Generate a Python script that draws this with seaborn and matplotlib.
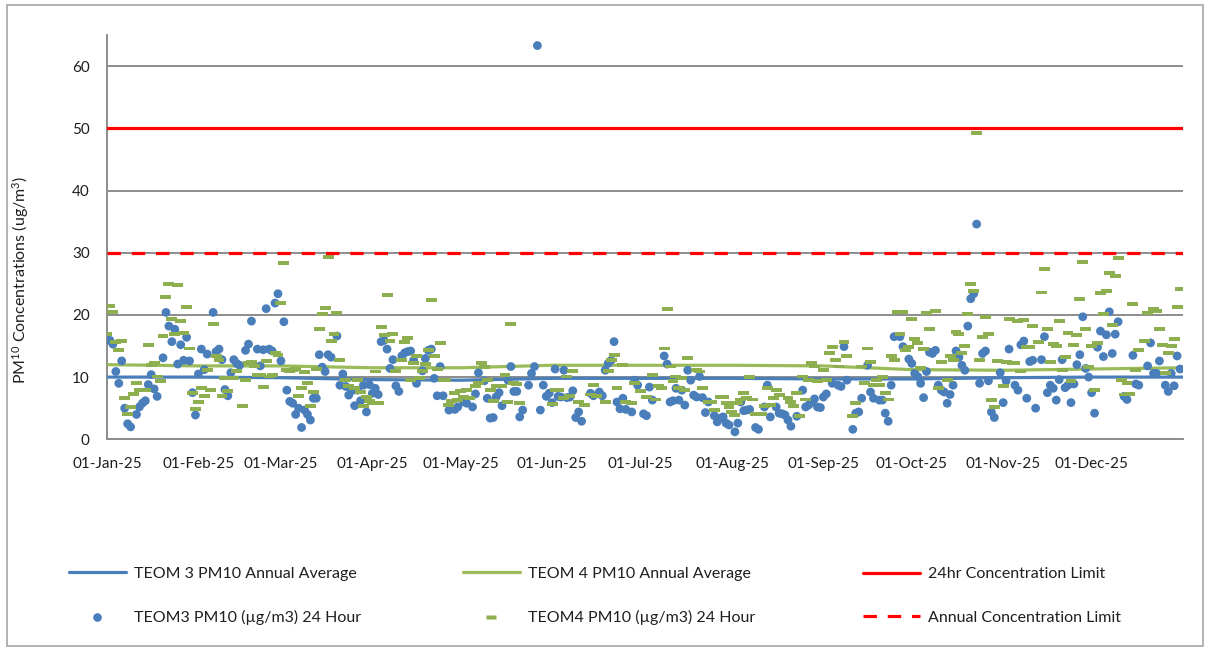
import numpy as np
import pandas as pd
import matplotlib
matplotlib.use("Agg")
import matplotlib.pyplot as plt
from matplotlib.lines import Line2D
from matplotlib.patches import Rectangle
from matplotlib.markers import MarkerStyle
import seaborn as sns

# ---------------------------------------------------------------------------
# Daily PM10 readings, 2025 (day of year offset from 01-Jan, value in ug/m3)
# ---------------------------------------------------------------------------
teom3_days = [
    0, 1, 2, 3, 4, 5, 6, 7, 8, 10, 11, 12, 13, 14, 15, 16, 17, 19, 20, 21,
    22, 23, 24, 25, 26, 27, 28, 29, 30, 31, 32, 33, 34, 36, 37, 38, 39, 40, 41, 42,
    43, 44, 45, 47, 48, 49, 51, 52, 53, 54, 55, 56, 57, 58, 59, 60, 61, 62, 63, 64,
    65, 66, 67, 68, 69, 70, 71, 72, 73, 74, 75, 76, 78, 79, 80, 81, 82, 83, 84, 85,
    86, 87, 88, 89, 90, 91, 92, 93, 94, 95, 96, 97, 98, 99, 100, 101, 102, 103, 104, 105,
    107, 108, 109, 110, 111, 112, 113, 114, 116, 118, 119, 121, 122, 124, 125, 126, 128, 129, 130, 131,
    132, 133, 134, 136, 137, 138, 139, 140, 141, 143, 144, 145, 146, 147, 148, 149, 150, 151, 152, 153,
    154, 155, 156, 157, 158, 159, 160, 161, 164, 165, 167, 168, 169, 170, 171, 172, 173, 174, 175, 176,
    178, 179, 180, 182, 183, 184, 185, 189, 190, 191, 192, 193, 194, 195, 196, 197, 198, 199, 200, 201,
    202, 203, 204, 206, 207, 208, 209, 210, 211, 213, 214, 215, 216, 217, 218, 220, 221, 223, 224, 225,
    227, 228, 229, 230, 231, 232, 234, 236, 237, 238, 239, 240, 241, 242, 243, 244, 246, 248, 249, 250,
    251, 253, 254, 255, 256, 258, 259, 260, 262, 263, 264, 265, 266, 267, 269, 270, 272, 273, 274, 275,
    276, 277, 278, 279, 280, 281, 282, 283, 284, 285, 286, 287, 288, 289, 290, 291, 292, 293, 294, 295,
    296, 297, 298, 299, 300, 301, 303, 304, 305, 306, 308, 309, 310, 311, 312, 313, 314, 315, 317, 318,
    319, 320, 321, 322, 323, 324, 325, 326, 327, 328, 329, 330, 331, 332, 333, 334, 335, 336, 337, 338,
    339, 340, 341, 342, 343, 345, 346, 348, 349, 350, 353, 354, 355, 356, 357, 359, 360, 361, 362, 363,
    364,
]
teom3_pm10 = [
    16.0, 15.9, 15.3, 10.9, 9.0, 12.6, 5.0, 2.5, 2.0, 4.0, 5.2, 5.8, 6.2, 8.8, 10.4, 8.1, 6.9, 13.1, 20.4, 18.2,
    15.7, 17.7, 12.1, 15.2, 12.7, 16.4, 12.6, 7.5, 3.9, 10.5, 14.5, 11.2, 13.7, 20.4, 14.1, 14.5, 12.8, 8.0, 7.0, 10.7,
    12.8, 12.2, 11.9, 14.3, 15.3, 19.0, 14.5, 11.8, 14.4, 21.0, 14.5, 14.2, 21.9, 23.4, 12.6, 18.9, 7.9, 6.1, 5.8, 4.0,
    5.0, 1.9, 4.7, 4.0, 3.1, 6.6, 6.6, 13.6, 11.6, 10.9, 13.6, 13.2, 16.6, 8.7, 10.5, 8.5, 7.1, 7.8, 5.4, 7.9,
    6.2, 8.7, 4.4, 8.8, 7.4, 8.2, 7.2, 15.7, 15.9, 14.5, 11.4, 12.8, 8.6, 7.7, 13.4, 13.9, 14.1, 14.2, 12.7, 9.0,
    11.0, 13.0, 14.3, 14.5, 9.8, 7.0, 11.7, 7.0, 4.7, 4.8, 5.2, 6.0, 5.8, 5.2, 7.3, 10.7, 9.4, 6.6, 3.4, 3.5,
    6.8, 7.5, 5.4, 9.5, 11.7, 7.7, 7.7, 3.6, 4.7, 8.7, 10.6, 11.7, 63.3, 4.7, 8.7, 6.9, 7.4, 5.9, 11.3, 6.9,
    6.8, 11.1, 6.7, 6.8, 7.8, 3.5, 4.4, 2.9, 7.4, 7.0, 7.6, 7.0, 11.1, 12.2, 12.7, 15.7, 6.0, 4.9, 6.6, 4.8,
    4.4, 9.5, 8.7, 4.1, 3.8, 8.4, 6.3, 13.4, 12.1, 6.0, 6.2, 8.2, 6.3, 7.9, 5.5, 11.1, 9.5, 7.1, 6.8, 10.1,
    6.7, 4.3, 6.0, 3.8, 2.8, 3.4, 3.6, 2.6, 2.3, 1.2, 2.6, 6.0, 4.6, 4.7, 4.8, 1.9, 1.6, 5.2, 8.7, 3.6,
    5.2, 4.2, 4.1, 3.9, 3.1, 2.1, 3.7, 7.9, 5.2, 5.5, 6.0, 6.5, 5.2, 5.1, 6.8, 7.3, 9.0, 8.7, 8.5, 14.9,
    9.5, 1.6, 4.2, 4.4, 6.6, 11.9, 7.6, 6.6, 6.3, 6.3, 4.2, 2.9, 8.7, 16.5, 16.5, 14.9, 12.9, 12.2, 10.6, 10.1,
    9.0, 6.7, 10.9, 14.0, 13.8, 14.3, 8.7, 7.9, 7.6, 5.8, 7.2, 8.7, 14.2, 13.2, 11.9, 11.1, 18.2, 22.6, 23.4, 34.6,
    9.0, 13.8, 14.2, 9.4, 4.4, 3.5, 10.7, 5.9, 9.4, 14.5, 8.7, 7.9, 15.2, 15.8, 6.6, 12.5, 12.7, 5.0, 12.8, 16.5,
    7.5, 8.7, 8.2, 6.3, 9.6, 12.8, 8.3, 8.7, 5.9, 8.9, 12.0, 13.6, 19.7, 11.4, 10.0, 7.5, 4.2, 14.8, 17.4, 13.3,
    16.8, 20.5, 13.8, 16.9, 18.9, 6.9, 6.4, 13.5, 8.9, 8.7, 11.8, 15.5, 10.6, 10.6, 12.6, 8.7, 7.7, 10.6, 8.6, 13.4,
    11.3,
]

teom4_days = [
    0, 1, 2, 3, 4, 5, 6, 7, 8, 9, 10, 11, 13, 14, 15, 16, 17, 18, 19, 20,
    21, 22, 23, 24, 25, 26, 27, 28, 29, 30, 31, 32, 33, 34, 35, 36, 37, 38, 39, 40,
    41, 43, 44, 46, 47, 48, 49, 50, 51, 52, 53, 54, 55, 56, 57, 58, 59, 60, 61, 62,
    63, 64, 65, 66, 67, 68, 69, 70, 71, 72, 73, 74, 75, 76, 77, 78, 79, 81, 82, 84,
    85, 86, 87, 88, 89, 90, 91, 92, 93, 94, 95, 96, 97, 98, 100, 101, 102, 103, 104, 105,
    106, 107, 108, 109, 110, 111, 112, 113, 114, 115, 116, 117, 118, 119, 120, 121, 122, 123, 125, 126,
    127, 128, 129, 130, 131, 132, 134, 135, 136, 137, 138, 139, 140, 151, 152, 153, 155, 156, 157, 158,
    160, 162, 164, 165, 166, 169, 170, 171, 172, 173, 175, 176, 178, 179, 181, 183, 185, 186, 187, 188,
    189, 190, 191, 192, 193, 194, 195, 196, 197, 200, 201, 202, 204, 205, 206, 208, 209, 210, 211, 212,
    213, 214, 215, 216, 217, 218, 219, 220, 222, 223, 224, 225, 226, 227, 228, 231, 232, 233, 234, 235,
    236, 237, 238, 239, 240, 241, 243, 244, 245, 246, 247, 248, 250, 251, 253, 254, 256, 257, 258, 259,
    260, 261, 262, 263, 264, 265, 266, 267, 268, 269, 270, 271, 272, 273, 274, 275, 276, 277, 278, 279,
    281, 282, 283, 285, 286, 287, 288, 289, 290, 291, 292, 293, 294, 295, 296, 297, 298, 299, 300, 301,
    302, 304, 305, 306, 307, 308, 309, 310, 311, 312, 313, 314, 316, 317, 318, 319, 320, 321, 322, 323,
    324, 325, 326, 327, 328, 329, 330, 331, 332, 333, 334, 335, 336, 337, 338, 339, 340, 341, 342, 343,
    344, 345, 346, 347, 348, 349, 350, 352, 353, 355, 356, 357, 358, 359, 360, 361, 362, 363, 364,
]
teom4_pm10 = [
    16.9, 21.5, 20.4, 15.7, 14.3, 15.8, 6.7, 4.0, 5.2, 7.3, 9.0, 7.9, 7.9, 15.2, 11.9, 12.3, 10.1, 9.3, 16.6, 22.9,
    25.0, 19.3, 17.0, 24.8, 19.0, 17.1, 21.2, 14.6, 7.5, 4.8, 6.0, 8.3, 6.9, 11.1, 7.9, 18.6, 13.4, 12.7, 7.0, 9.8,
    7.8, 9.8, 11.0, 5.4, 9.5, 12.2, 12.4, 11.8, 10.3, 10.3, 8.4, 12.6, 10.1, 10.3, 13.8, 13.6, 21.9, 28.3, 11.1, 11.0,
    11.2, 11.3, 6.9, 8.2, 10.8, 9.0, 5.3, 7.6, 11.3, 17.7, 20.2, 21.1, 29.3, 15.8, 17.0, 20.3, 12.7, 9.5, 8.5, 8.3,
    9.5, 7.6, 5.3, 6.8, 6.1, 5.8, 10.9, 5.9, 18.0, 16.8, 23.2, 15.8, 17.0, 11.0, 12.8, 15.6, 16.3, 9.6, 12.3, 13.4,
    9.9, 11.0, 12.1, 14.3, 22.4, 13.4, 11.3, 15.5, 9.6, 9.5, 5.5, 6.2, 7.4, 6.3, 7.8, 6.8, 8.0, 6.6, 8.6, 9.0,
    12.3, 11.6, 9.6, 8.0, 6.1, 8.5, 8.5, 10.3, 6.0, 18.5, 9.0, 8.9, 5.9, 5.7, 8.0, 8.0, 6.7, 10.1, 6.9, 11.0,
    6.0, 5.5, 7.2, 8.7, 7.0, 6.0, 11.0, 12.8, 13.5, 8.2, 11.9, 6.0, 5.9, 9.0, 7.7, 6.8, 10.3, 6.4, 8.5, 8.2,
    14.6, 20.9, 11.7, 9.3, 10.1, 8.2, 9.9, 7.9, 13.0, 11.1, 10.9, 8.2, 6.0, 6.0, 4.7, 6.8, 6.8, 5.8, 5.2, 4.4,
    3.9, 5.9, 6.4, 7.4, 6.6, 10.0, 6.4, 4.0, 4.0, 5.4, 8.2, 5.5, 6.6, 8.0, 7.1, 6.6, 6.0, 5.3, 7.5, 3.7,
    10.1, 6.4, 9.5, 12.3, 11.7, 9.3, 11.1, 9.6, 13.8, 14.8, 12.7, 11.7, 15.7, 13.4, 3.7, 5.9, 11.7, 9.0, 14.6, 12.5,
    8.7, 9.5, 8.7, 10.0, 7.4, 6.4, 13.4, 12.8, 20.4, 17.0, 20.5, 14.3, 14.8, 19.4, 16.2, 15.5, 11.4, 14.5, 20.3, 17.8,
    20.6, 8.3, 12.5, 9.6, 13.4, 12.8, 17.3, 17.0, 13.9, 15.0, 20.1, 24.9, 23.9, 49.3, 12.8, 16.4, 19.7, 16.9, 6.3, 5.2,
    12.6, 8.6, 12.5, 19.3, 12.2, 12.2, 19.0, 10.9, 19.2, 14.9, 14.9, 18.2, 15.7, 23.6, 27.4, 17.7, 12.5, 15.3, 15.0, 19.0,
    11.2, 13.3, 17.1, 9.4, 15.2, 16.8, 22.6, 28.5, 17.7, 11.6, 15.0, 8.0, 15.5, 23.5, 20.1, 23.9, 26.7, 18.4, 26.2, 29.2,
    9.6, 7.2, 9.0, 7.3, 21.8, 11.2, 14.3, 15.8, 20.3, 21.0, 20.7, 17.7, 15.1, 10.7, 13.8, 15.0, 16.2, 21.3, 24.1,
]

# Running annual averages, sampled at the start of each month (Jan-25 .. Jan-26)
teom3_annual_avg = [10.0, 10.0, 9.9, 9.6, 9.5, 9.8, 9.8, 9.8, 9.7, 9.7, 9.9, 10.0, 10.0]
teom4_annual_avg = [12.0, 11.8, 11.8, 11.5, 11.5, 11.9, 11.9, 11.9, 11.8, 11.2, 11.1, 11.3, 11.5]

# Regulatory limits (ug/m3)
limit_24hr = 50
limit_annual = 30

month_starts = pd.date_range("2025-01-01", "2026-01-01", freq="MS")
month_labels = ["01-Jan-25", "01-Feb-25", "01-Mar-25", "01-Apr-25", "01-May-25", "01-Jun-25",
                "01-Jul-25", "01-Aug-25", "01-Sep-25", "01-Oct-25", "01-Nov-25", "01-Dec-25", ""]
y_ticks = [0, 10, 20, 30, 40, 50, 60]

# ---------------------------------------------------------------------------
BLUE = "#4A7EBB"
GREEN_LINE = "#9BBB59"
GREEN_MARK = "#8DAF4F"
RED = "#FF0000"
GRID = "#8C8C8C"
TEXT = "#1F1F1F"

sns.set_theme(style="white")
plt.rcParams["font.family"] = ["Lato", "DejaVu Sans"]
plt.rcParams["mathtext.fontset"] = "custom"
plt.rcParams["mathtext.rm"] = "Lato"
plt.rcParams["mathtext.it"] = "Lato"
plt.rcParams["mathtext.default"] = "rm"

W, H = 1211, 648
fig = plt.figure(figsize=(W / 100, H / 100), dpi=100)
fig.patch.set_facecolor("white")
ax = fig.add_axes([107 / W, 1 - 439.3 / H, (1183 - 107) / W, (439.3 - 35) / H])

start = pd.Timestamp("2025-01-01")
df3 = pd.DataFrame({"date": start + pd.to_timedelta(teom3_days, unit="D"), "pm10": teom3_pm10})
df4 = pd.DataFrame({"date": start + pd.to_timedelta(teom4_days, unit="D"), "pm10": teom4_pm10})
avg = pd.DataFrame({"date": month_starts, "teom3": teom3_annual_avg, "teom4": teom4_annual_avg})

# Annual averages and limits
sns.lineplot(data=avg, x="date", y="teom3", color=BLUE, linewidth=2.3, ax=ax, zorder=3)
sns.lineplot(data=avg, x="date", y="teom4", color=GREEN_LINE, linewidth=2.3, ax=ax, zorder=3)
ax.axhline(limit_24hr, color=RED, linewidth=2.3, zorder=3)

# Daily readings
sns.scatterplot(data=df3, x="date", y="pm10", color=BLUE, s=40, edgecolor="none",
                linewidth=0, ax=ax, zorder=4)
dash = MarkerStyle([(-1, -0.36), (1, -0.36), (1, 0.36), (-1, 0.36), (-1, -0.36)])
sns.scatterplot(data=df4, x="date", y="pm10", color=GREEN_MARK, marker=dash, s=62,
                edgecolor="none", linewidth=0, ax=ax, zorder=5)

ax.axhline(limit_annual, color=RED, linewidth=2.3, linestyle=(0, (4.2, 3.4)), zorder=6)

# Axes styling
ax.set_xlim(month_starts[0], month_starts[-1])
ax.set_ylim(0, 65)
ax.set_xticks(month_starts)
ax.set_xticklabels(month_labels)
ax.set_yticks(y_ticks)
ax.yaxis.grid(True, color=GRID, linewidth=1.4)
ax.xaxis.grid(False)
ax.set_axisbelow(True)
for side in ("top", "right"):
    ax.spines[side].set_visible(False)
for side in ("left", "bottom"):
    ax.spines[side].set_color(GRID)
    ax.spines[side].set_linewidth(1.4)
ax.tick_params(axis="both", direction="out", length=4.5, width=1.4, color=GRID,
               labelsize=11, labelcolor=TEXT)
ax.tick_params(axis="x", pad=8)
ax.tick_params(axis="y", pad=8)
ax.set_xlabel("")
ax.set_ylabel(r"PM$^{10}$ Concentrations (ug/m$^{3}$)", fontsize=11.5, color=TEXT)
ax.yaxis.set_label_coords((31 - 107) / (1183 - 107), (439.3 - 280) / (439.3 - 35))

# Legend: three columns of two entries each
legend_cols = [
    (69, [Line2D([], [], color=BLUE, lw=2.3),
          Line2D([], [], ls="none", marker="o", ms=6.2, color=BLUE, mec="none")],
     ["TEOM 3 PM10 Annual Average", "TEOM3 PM10 (µg/m3) 24 Hour"]),
    (463, [Line2D([], [], color=GREEN_LINE, lw=2.3),
           Line2D([], [], ls="none", marker=dash, ms=7.8, color=GREEN_MARK, mec="none")],
     ["TEOM 4 PM10 Annual Average", "TEOM4 PM10 (µg/m3) 24 Hour"]),
    (863, [Line2D([], [], color=RED, lw=2.3),
           Line2D([], [], color=RED, lw=2.3, ls=(0, (4.2, 3.4)))],
     ["24hr Concentration Limit", "Annual Concentration Limit"]),
]
for x_px, handles, labels in legend_cols:
    fig.legend(handles, labels, loc="center left", bbox_to_anchor=(x_px / W, 1 - 596 / H),
               frameon=False, fontsize=11.5, handlelength=3.55, handletextpad=0.55,
               labelspacing=1.85, borderpad=0, borderaxespad=0, labelcolor=TEXT)

# Chart frame
fig.add_artist(Rectangle((6.5 / W, 2 / H), (1203 - 6.5) / W, (643 - 2) / H,
                         transform=fig.transFigure, fill=False, edgecolor="#A6A6A6",
                         linewidth=1.2))

fig.savefig("out.png", dpi=100, facecolor="white")
